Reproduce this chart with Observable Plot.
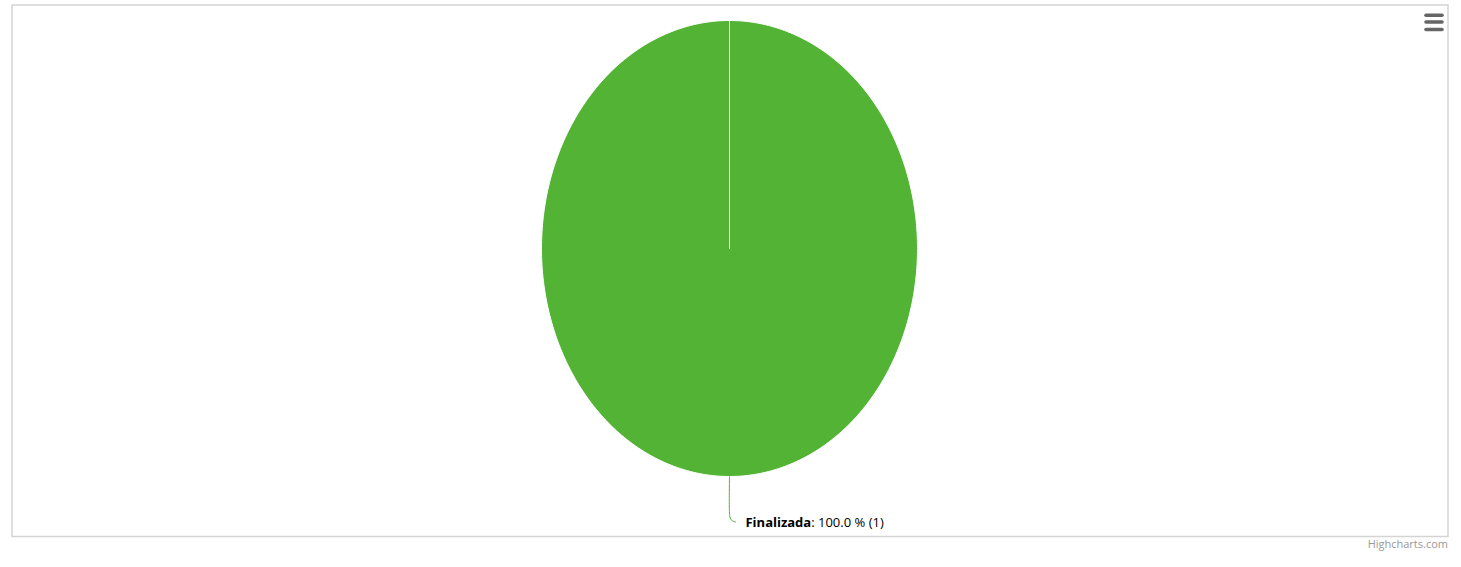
<!DOCTYPE html>
<html><head><meta charset="utf-8">
<script src="https://cdn.jsdelivr.net/npm/d3@7"></script>
<script src="https://cdn.jsdelivr.net/npm/@observablehq/plot@0.6"></script>
<style>
body{margin:0;background:#fff;}
#chart{width:1461px;height:567px;}
</style>
</head><body>
<div id="chart"></div>
<script>
// Data
const categories = ["Finalizada"];
const values = [1];
const colors = ["#53b334"];
const creditText = "Highcharts.com";

const total = d3.sum(values);
const pie = d3.pie().sort(null)(values);

// slice outlines (unit ellipse, stretched by scales)
const N = 360;
const slicePts = pie.flatMap((s, i) => {
  const pts = [{x: 0, y: 0, k: i}];
  for (let j = 0; j <= N; j++) {
    const a = s.startAngle + (s.endAngle - s.startAngle) * j / N;
    pts.push({x: Math.sin(a), y: Math.cos(a), k: i});
  }
  return pts;
});

// labels at mid-angle
const labels = pie.map((s, i) => {
  const a = (s.startAngle + s.endAngle) / 2;
  return {
    k: i,
    ax: Math.sin(a), ay: Math.cos(a),
    name: categories[i],
    text: `${categories[i]}: ${(100 * values[i] / total).toFixed(1)} % (${values[i]})`
  };
});

// soft connectors going down from the edge and bending right to the label
const connPts = labels.flatMap(l => [
  {x: l.ax, y: l.ay, k: l.k},
  {x: l.ax, y: l.ay - 0.16, k: l.k},
  {x: l.ax + 0.004, y: l.ay - 0.182, k: l.k},
  {x: l.ax + 0.014, y: l.ay - 0.194, k: l.k},
  {x: l.ax + 0.032, y: l.ay - 0.2, k: l.k}
]);

const chart = Plot.plot({
  width: 1461,
  height: 567,
  marginLeft: 11.5,
  marginTop: 4.5,
  marginRight: 13.5,
  marginBottom: 31,
  style: {background: "#fff", fontFamily: "'Open Sans', sans-serif"},
  x: {domain: [-1, 1], range: [541, 917], axis: null},
  y: {domain: [-1, 1], range: [476, 20], axis: null},
  color: {type: "identity"},
  marks: [
    Plot.frame({stroke: "#d4d4d4", strokeWidth: 1.5}),
    Plot.line(slicePts, {x: "x", y: "y", z: "k", fill: d => colors[d.k], stroke: "#fff", strokeWidth: 1, curve: "linear"}),
    Plot.line(connPts, {x: "x", y: "y", z: "k", stroke: d => colors[d.k], strokeWidth: 1, curve: "catmull-rom"}),
    Plot.text(labels, {x: d => d.ax + 0.085, y: d => d.ay - 0.202, text: "text", textAnchor: "start", lineAnchor: "middle", fontSize: 13, fill: "#000"}),
    Plot.text([creditText], {frameAnchor: "bottom-right", dy: 11, text: d => d, fill: "#999", fontSize: 11, textAnchor: "end"})
  ]
});

// bold category name in the data label
const svg = d3.select(chart);
svg.selectAll("text").each(function() {
  const t = d3.select(this);
  const content = t.text();
  const lab = labels.find(l => l.text === content);
  if (lab) {
    t.text(null);
    t.append("tspan").attr("font-weight", "bold").text(lab.name);
    t.append("tspan").text(content.slice(lab.name.length));
  }
});

// context menu (hamburger) icon
const menu = svg.append("g").attr("stroke", "#666").attr("stroke-width", 3.6).attr("stroke-linecap", "round");
[15.3, 22, 29.5].forEach(yy => {
  menu.append("line").attr("x1", 1426).attr("x2", 1442).attr("y1", yy).attr("y2", yy);
});

document.getElementById("chart").appendChild(chart);
</script>
</body></html>
